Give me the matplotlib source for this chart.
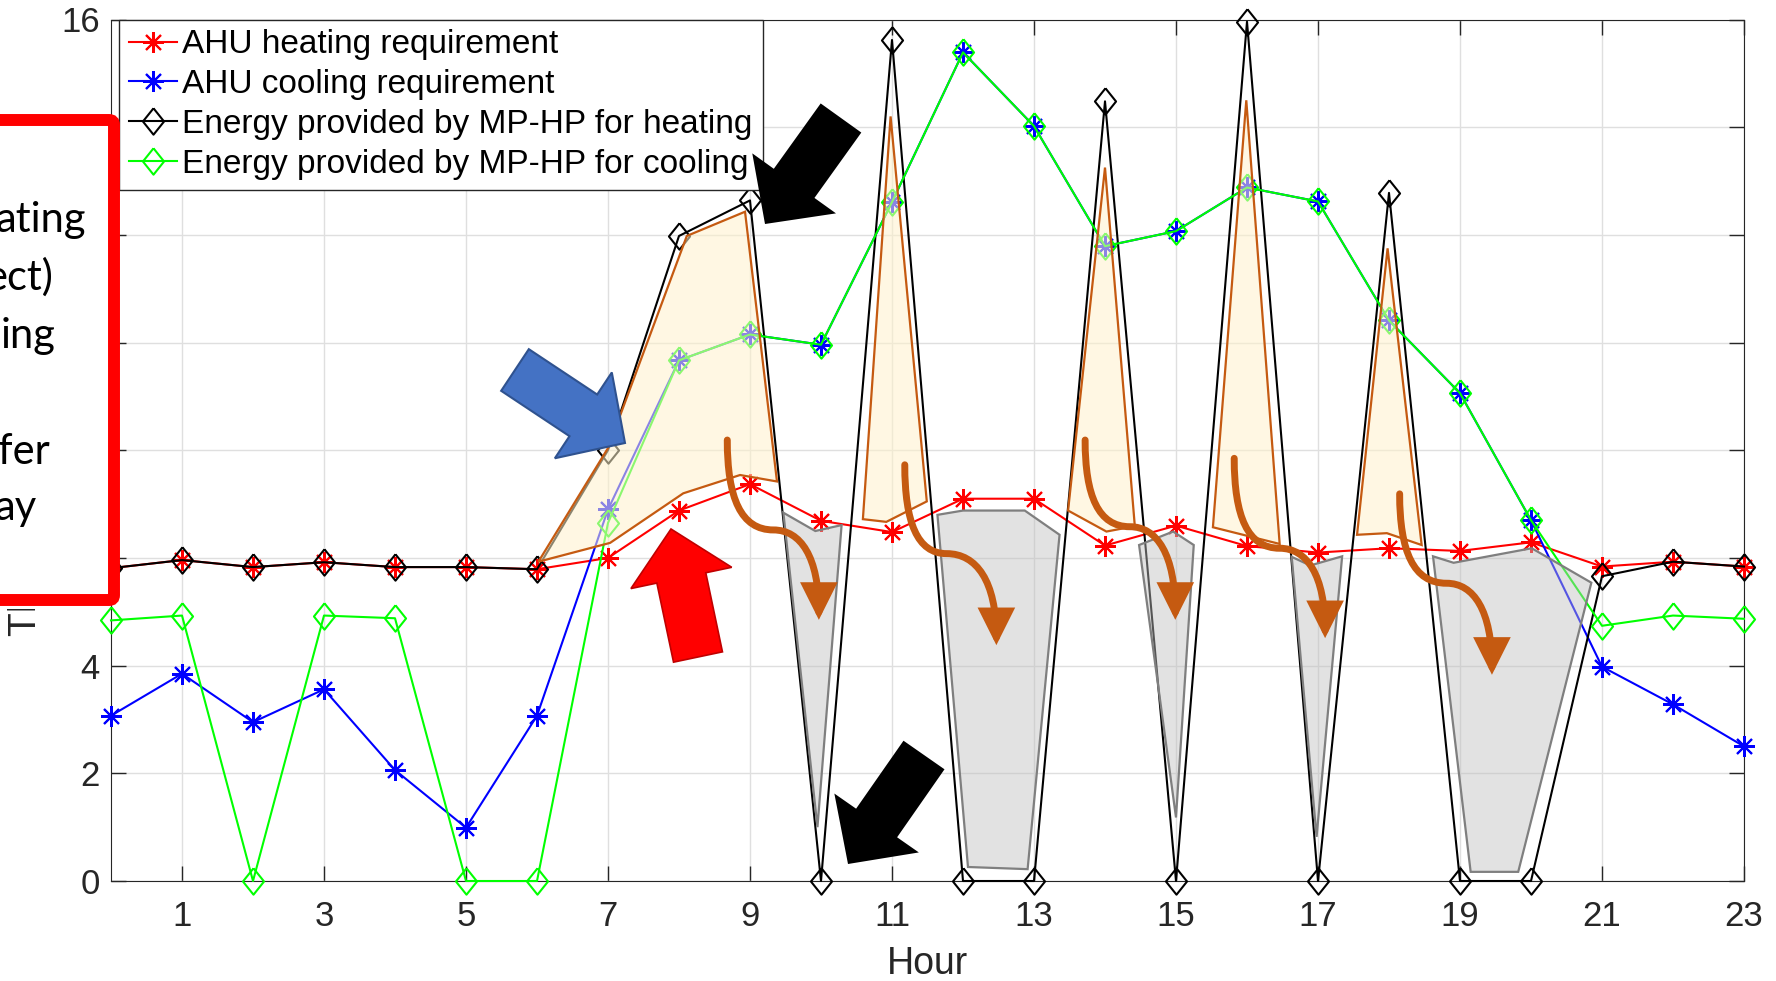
import numpy as np
import matplotlib.pyplot as plt
from matplotlib.patches import Polygon, FancyArrowPatch, FancyBboxPatch
from matplotlib.path import Path
from matplotlib.transforms import Affine2D, Bbox, TransformedBbox

plt.rcParams['font.family'] = ['Liberation Sans', 'DejaVu Sans']

# ---- data ----
hours = list(range(24))
heat_req = [5.81, 5.96, 5.83, 5.92, 5.83, 5.83, 5.79, 6.00, 6.88, 7.37, 6.69, 6.48,
            7.10, 7.10, 6.23, 6.60, 6.22, 6.10, 6.18, 6.13, 6.29, 5.84, 5.93, 5.84]
cool_req = [3.07, 3.85, 2.95, 3.56, 2.06, 0.99, 3.07, 6.90, 9.67, 10.15, 9.96, 12.61,
            15.39, 14.02, 11.79, 12.07, 12.88, 12.62, 10.41, 9.06, 6.70, 3.98, 3.28, 2.50]
hp_heat = [5.81, 5.96, 5.83, 5.92, 5.83, 5.83, 5.79, 8.00, 11.98, 12.64, 0, 15.62,
           0, 0, 14.48, 0, 15.96, 0, 12.78, 0, 0, 5.66, 5.93, 5.84]
hp_cool = [4.84, 4.93, 0, 4.93, 4.88, 0, 0, 6.65, 9.67, 10.15, 9.96, 12.61,
           15.39, 14.02, 11.79, 12.07, 12.88, 12.62, 10.41, 9.06, 6.70, 4.74, 4.93, 4.87]

labels = ['AHU heating requirement', 'AHU cooling requirement',
          'Energy provided by MP-HP for heating', 'Energy provided by MP-HP for cooling']
xticks = list(range(1, 24, 2))
yticks = list(range(0, 17, 2))

# ---- annotation overlays (hour, kWh) ----
stored = [
    [(6.02, 5.93), (7.0, 8.04), (8.11, 11.98), (8.93, 12.43), (9.38, 7.42), (8.86, 7.54), (8.06, 7.2), (7.03, 6.28)],
    [(10.59, 6.72), (10.98, 14.2), (11.49, 7.05), (10.92, 6.67)],
    [(13.48, 6.88), (14.0, 13.25), (14.42, 6.59), (14.02, 6.49)],
    [(15.52, 6.57), (15.99, 14.5), (16.46, 6.26)],
    [(17.55, 6.43), (17.98, 11.75), (18.46, 6.24), (17.97, 6.46)],
]
released = [
    [(9.47, 6.84), (9.92, 6.5), (10.29, 6.61), (9.95, 1.0)],
    [(11.64, 6.8), (12.0, 6.88), (12.87, 6.88), (13.36, 6.43), (12.91, 0.22), (12.07, 0.26)],
    [(14.48, 6.24), (14.96, 6.49), (15.25, 6.24), (15.0, 1.18)],
    [(16.63, 6.02), (16.89, 5.86), (17.34, 6.03), (16.98, 0.82)],
    [(18.62, 6.03), (18.91, 5.91), (20.01, 6.18), (20.85, 5.54), (19.82, 0.17), (19.15, 0.17)],
]
# start, bend, tip of the curved transfer arrows
transfers = [
    ((8.68, 8.19), (9.33, 6.52), (9.97, 4.85)),
    ((11.18, 7.73), (11.77, 6.08), (12.47, 4.38)),
    ((13.72, 8.19), (14.35, 6.58), (14.99, 4.85)),
    ((15.82, 7.85), (16.46, 6.18), (17.1, 4.51)),
    ((18.15, 7.19), (18.81, 5.53), (19.45, 3.83)),
]

W, H = 1776, 981
fig = plt.figure(figsize=(W / 100, H / 100), dpi=100)
ax = fig.add_axes([111 / W, 1 - 881 / H, 1633 / W, 861.5 / H])

ast = (8, 2, 0)
dia = [(0, 1), (0.8, 0), (0, -1), (-0.8, 0), (0, 1)]
kw = dict(lw=1.5, mew=1.5, clip_on=False, zorder=3)
ax.plot(hours, heat_req, color='#FF0000', marker=ast, ms=15, label=labels[0], **kw)
ax.plot(hours, cool_req, color='#0000FF', marker=ast, ms=15, label=labels[1], **kw)
ax.plot(hours, hp_heat, color='#000000', marker=dia, ms=19, mfc='none', label=labels[2], **kw)
ax.plot(hours, hp_cool, color='#00FF00', marker=dia, ms=19, mfc='none', label=labels[3], **kw)

for pts in stored:
    ax.add_patch(Polygon(pts, closed=True, fc=(1, 0.949, 0.8, 0.55), ec='#C55A11', lw=1.6, zorder=4))
for pts in released:
    ax.add_patch(Polygon(pts, closed=True, fc=(0.75, 0.75, 0.75, 0.45), ec='#7F7F7F', lw=1.6, zorder=4))


def s_path(start, bend, tip):
    (sx, sy), (bx, by), (tx, ty) = start, bend, tip
    verts = [(sx, sy), (sx, by + 0.35 * (sy - by)), (sx + 0.3 * (bx - sx), by), (bx, by),
             (bx + 0.6 * (tx - bx), by), (tx, by - 0.3 * (by - ty)), (tx, ty)]
    return Path(verts, [Path.MOVETO] + [Path.CURVE4] * 6)


for s, b, t in transfers:
    ax.add_patch(FancyArrowPatch(path=s_path(s, b, t), arrowstyle='-|>,head_length=19,head_width=9.5',
                                 color='#C55A11', lw=5, zorder=5, joinstyle='miter'))

ax.set_xlim(0, 23)
ax.set_ylim(0, 16)
ax.set_xticks(xticks)
ax.set_yticks(yticks)
ax.grid(True, color='#DFDFDF', lw=1)
ax.set_axisbelow(True)
ax.tick_params(direction='in', length=11, width=1, top=True, right=True,
               labelsize=25, colors='#262626')
ax.tick_params(axis='x', pad=14)
ax.tick_params(axis='y', pad=8)
for sp in ax.spines.values():
    sp.set_color('#262626')
ax.set_xlabel('Hour', fontsize=27, color='#262626', labelpad=9)

leg = ax.legend(loc='upper left', bbox_to_anchor=(0.005, 1.0), borderaxespad=0, fontsize=24,
                handlelength=1.45, handletextpad=0.15, labelspacing=0.26, borderpad=0.3,
                fancybox=False, framealpha=1, edgecolor='#262626')
leg.get_frame().set_linewidth(1)

# ---- slide overlays in reference pixel coordinates ----
px = Affine2D().scale(1 / W, -1 / H).translate(0, 1) + fig.transFigure


def block_arrow(tail, tip, sw=50, hw=103, hl=50):
    t = np.array(tail, float)
    p = np.array(tip, float)
    u = (p - t) / np.hypot(*(p - t))
    n = np.array([-u[1], u[0]])
    b = p - hl * u
    return [t + n * sw / 2, b + n * sw / 2, b + n * hw / 2, p, b - n * hw / 2, b - n * sw / 2, t - n * sw / 2]


fig.add_artist(Polygon(block_arrow((841, 118), (765, 224)), transform=px, fc='black', ec='none', zorder=2))
fig.add_artist(Polygon(block_arrow((924, 755), (848, 864)), transform=px, fc='black', ec='none', zorder=2))
fig.add_artist(Polygon(block_arrow((515, 370), (625, 443)), transform=px, fc='#4472C4', ec='#2F528F', lw=1.5, zorder=2))
fig.add_artist(Polygon(block_arrow((698, 657), (671, 529)), transform=px, fc='#FF0000', ec='#C00000', lw=1.2, zorder=2))

# y label: only its first letter shows below the red box
ylab = fig.text(8 / W, 1 - 636 / H, 'Thermal energy (kWh)', rotation=90, ha='left', va='bottom',
                fontsize=28, color='#262626', zorder=3)
ylab.set_clip_box(TransformedBbox(Bbox.from_extents(0, 0, 1.0, (H - 609) / 100), fig.dpi_scale_trans))

box = FancyBboxPatch((-30, 120), 144, 480, boxstyle='round,pad=0,rounding_size=5', transform=px,
                     fc='white', ec='#FF0000', lw=8.6, zorder=6, clip_on=False)
fig.add_artist(box)
box_text = [('ating', 86, 232), ('ect)', 53, 290), ('ing', 55, 348), ('fer', 50, 464), ('ay', 37, 520)]
for s, x, y in box_text:
    fig.text(x / W, 1 - y / H, s, ha='right', va='baseline', fontsize=30, family=['Lato'],
             color='black', zorder=7)

fig.savefig('out.png', dpi=100)
